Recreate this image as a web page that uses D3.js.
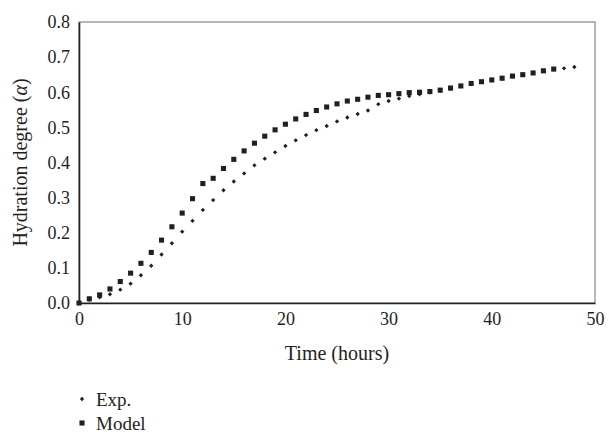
<!DOCTYPE html>
<html>
<head>
<meta charset="utf-8">
<script src="https://cdn.jsdelivr.net/npm/d3@7"></script>
<style>
  body { margin: 0; background: #fff; }
  svg text { font-family: "Liberation Serif", "DejaVu Serif", serif; fill: #231f20; }
</style>
</head>
<body>
<svg width="609" height="438"></svg>
<script>
// Hydration degree, read hour by hour off the picture
const horasExp = d3.range(0, 49);
const exp = [
  0.000, 0.009, 0.016, 0.025, 0.038, 0.055, 0.079, 0.106, 0.138, 0.170,
  0.203, 0.234, 0.265, 0.293, 0.321, 0.346, 0.369, 0.392, 0.411, 0.429,
  0.447, 0.463, 0.478, 0.492, 0.504, 0.517, 0.528, 0.538, 0.548, 0.566,
  0.575, 0.582, 0.589, 0.594, 0.600, 0.604, 0.610, 0.617, 0.623, 0.629,
  0.634, 0.639, 0.645, 0.649, 0.654, 0.660, 0.665, 0.668, 0.672
];
const horasModel = d3.range(0, 47);
const model = [
  0.000, 0.012, 0.023, 0.040, 0.061, 0.085, 0.113, 0.144, 0.179, 0.217,
  0.256, 0.297, 0.340, 0.355, 0.383, 0.409, 0.433, 0.455, 0.475, 0.493,
  0.509, 0.524, 0.537, 0.548, 0.558, 0.567, 0.575, 0.580, 0.586, 0.591,
  0.593, 0.596, 0.599, 0.600, 0.602, 0.606, 0.612, 0.618, 0.625, 0.630,
  0.635, 0.640, 0.646, 0.650, 0.655, 0.661, 0.666
];
const xTicks = [0, 10, 20, 30, 40, 50];
const yTicks = [0, 0.1, 0.2, 0.3, 0.4, 0.5, 0.6, 0.7, 0.8];

const svg = d3.select("svg");
const margin = { top: 22, right: 14, bottom: 135, left: 79 };
const width = 609 - margin.left - margin.right;
const height = 438 - margin.top - margin.bottom;
const ink = "#231f20";
const serif = "'Liberation Serif', 'DejaVu Serif', serif";

const g = svg.append("g")
  .attr("transform", `translate(${margin.left},${margin.top})`);

const x = d3.scaleLinear().domain([0, 50]).range([0, width]);
const y = d3.scaleLinear().domain([0, 0.8]).range([height, 0]);

// Marco del área de trazado
g.append("rect")
  .attr("width", width)
  .attr("height", height)
  .attr("fill", "none")
  .attr("stroke", "#6d6e71")
  .attr("stroke-width", 1);

// Ejes
const ejeX = g.append("g")
  .attr("transform", `translate(0,${height})`)
  .call(d3.axisBottom(x).tickValues(xTicks).tickSize(0).tickPadding(9));
const ejeY = g.append("g")
  .call(d3.axisLeft(y).tickValues(yTicks).tickFormat(d3.format(".1f")).tickSize(0).tickPadding(9));
[ejeX, ejeY].forEach(a => {
  a.attr("font-family", null).attr("font-size", null);
  a.select(".domain").attr("stroke", ink).attr("stroke-width", 1.6);
  a.selectAll("text")
    .style("font-family", serif)
    .style("font-size", "18px")
    .attr("fill", ink);
});

// Puntos
const cuadrado = d3.symbol(d3.symbolSquare, 26);
const rombo = d3.symbol(d3.symbolDiamond2, 12);

g.selectAll("path.model")
  .data(horasModel)
  .join("path")
  .attr("class", "model")
  .attr("d", cuadrado)
  .attr("transform", (d, i) => `translate(${x(d)},${y(model[i])})`)
  .attr("fill", ink);

g.selectAll("path.exp")
  .data(horasExp)
  .join("path")
  .attr("class", "exp")
  .attr("d", rombo)
  .attr("transform", (d, i) => `translate(${x(d)},${y(exp[i])})`)
  .attr("fill", ink);

// Títulos de ejes
svg.append("text")
  .attr("x", margin.left + width / 2)
  .attr("y", 360)
  .attr("text-anchor", "middle")
  .style("font-size", "20px")
  .text("Time (hours)");

const ty = svg.append("text")
  .attr("transform", `translate(27,${margin.top + height / 2}) rotate(-90)`)
  .attr("text-anchor", "middle")
  .style("font-size", "20px");
ty.append("tspan").text("Hydration degree (");
ty.append("tspan").attr("font-style", "italic").text("α");
ty.append("tspan").text(")");

// Leyenda
const leyenda = [
  { nombre: "Exp.", simbolo: rombo, y: 399 },
  { nombre: "Model", simbolo: cuadrado, y: 423 }
];
const li = svg.selectAll("g.leyenda")
  .data(leyenda)
  .join("g")
  .attr("class", "leyenda")
  .attr("transform", d => `translate(82,${d.y})`);
li.append("path").attr("d", d => d.simbolo()).attr("fill", ink);
li.append("text")
  .attr("x", 14)
  .attr("dy", "0.35em")
  .style("font-size", "19px")
  .text(d => d.nombre);
</script>
</body>
</html>
